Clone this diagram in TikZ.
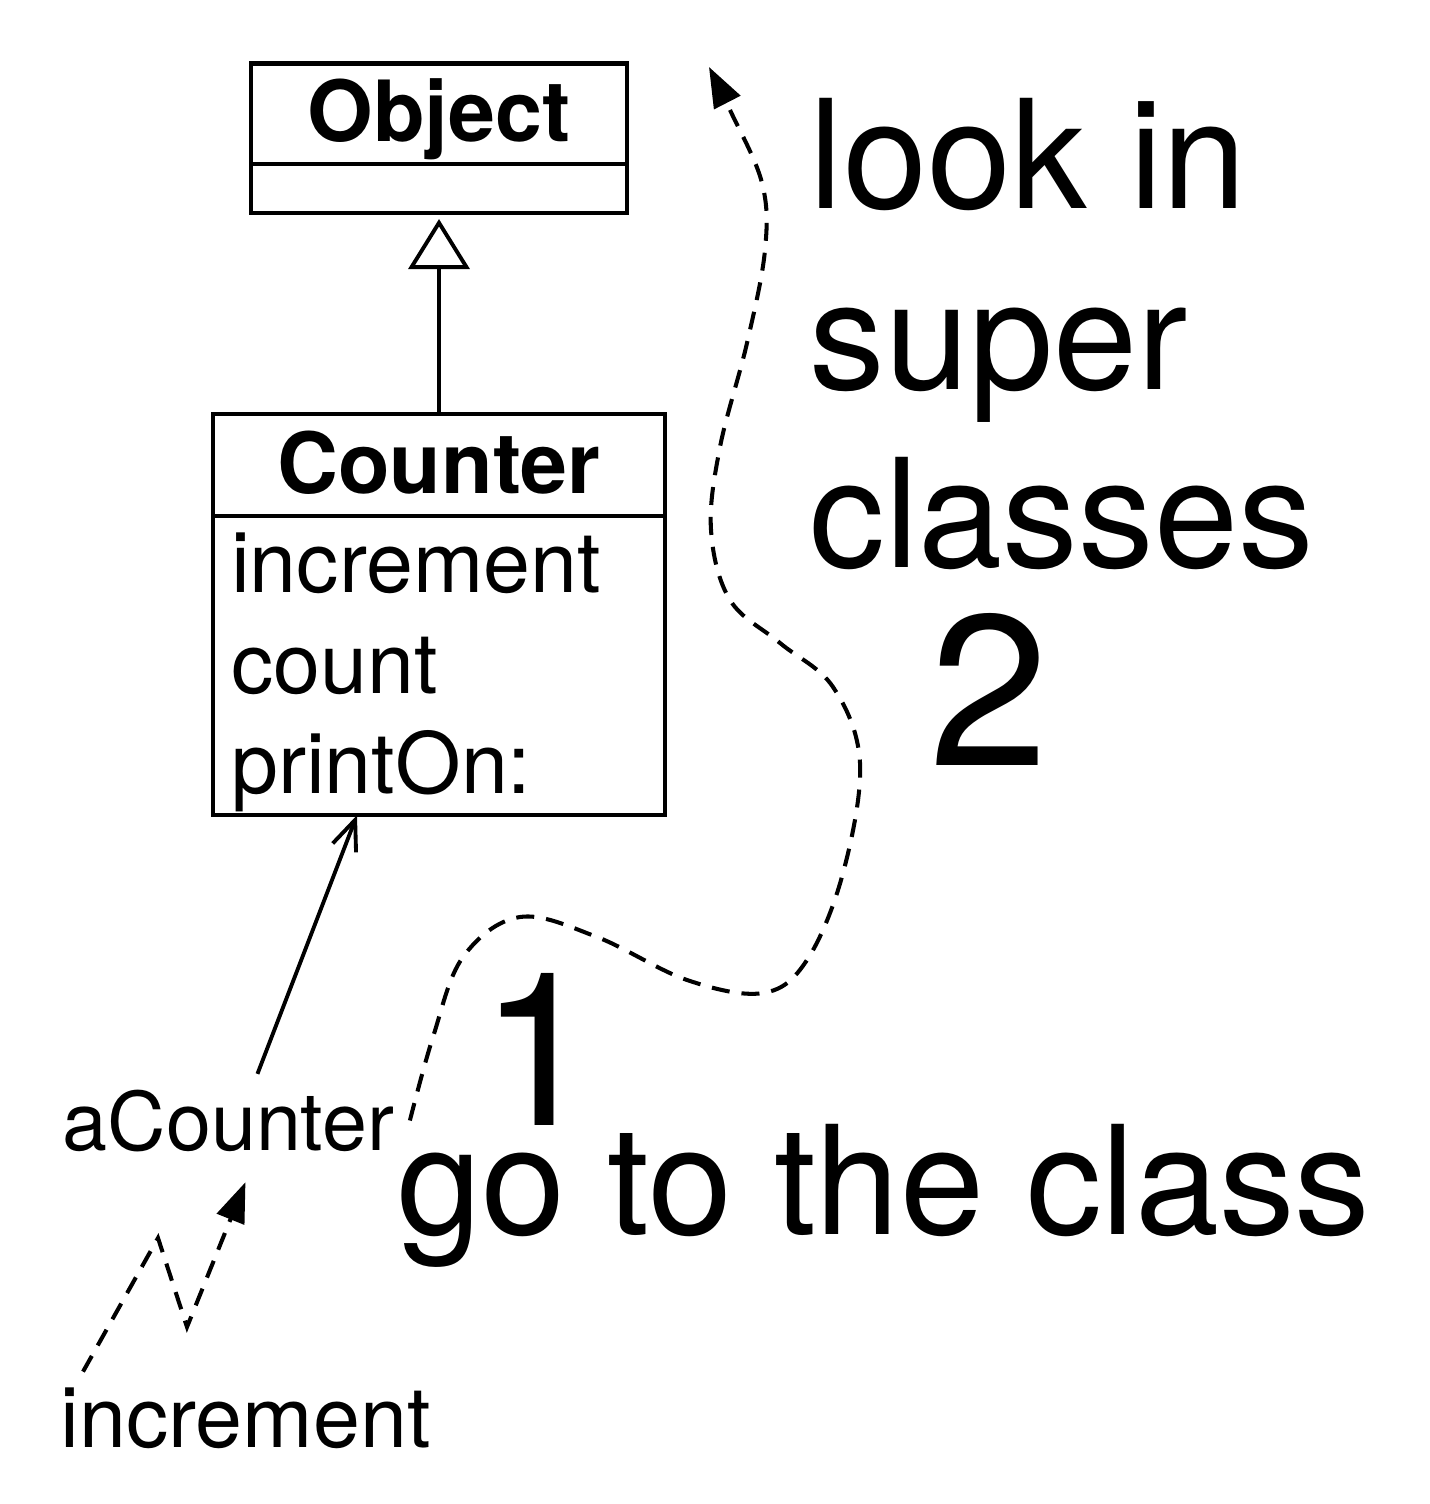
\documentclass[tikz,border=0pt]{standalone}
\usepackage{fontspec}
\setmainfont{TeX Gyre Heros}
\usepackage{tikz}
\usetikzlibrary{shapes, calc, arrows.meta, positioning}

\begin{document}
\begin{tikzpicture}[x=0.01cm, y=-0.01cm, >={Triangle[length=0.4cm, width=0.29cm]},
    classbox/.style={draw, line width=1.2pt, inner sep=0pt, outer sep=0pt},
    classhead/.style={classbox, font=\bfseries\fontsize{24}{28}\selectfont,
      text height=0.61cm, text depth=0.05cm},
    method/.style={inner sep=0pt, anchor=base west, font=\fontsize{24}{28}\selectfont},
    smalltext/.style={inner sep=0.15cm, anchor=base west, font=\fontsize{24}{28}\selectfont},
    bigtext/.style={inner sep=0pt, anchor=base west, font=\fontsize{43}{50}\selectfont},
    bignum/.style={inner sep=0pt, anchor=base west, font=\fontsize{61}{70}\selectfont},
    msg/.style={dash pattern=on 0.18cm off 0.12cm, line width=1.15pt},
    inherit/.style={-{Triangle[open, length=0.5cm, width=0.61cm]}, line width=1.1pt, shorten >=0.06cm},
    assoc/.style={-{Straight Barb[length=0.3cm, width=0.25cm]}, line width=1.1pt}]
  \useasboundingbox (0,0) rectangle (1429,1504);

  % classes
  \node[classhead, minimum width=3.76cm, minimum height=1.005cm] (objhead) at (439,113.75) {Object};
  \node[classbox, minimum width=3.76cm, minimum height=0.49cm, below=0pt of objhead] (objbody) {};
  \node[classhead, minimum width=4.51cm, minimum height=1.02cm] (counterhead) at (439,465) {Counter};
  \node[classbox, minimum width=4.51cm, minimum height=2.99cm, below=0pt of counterhead] (counterbody) {};
  \foreach \m [count=\i] in {increment, count, printOn:} {
      \node[method] (meth\i) at (230.5, 493+100*\i) {\m};
  };
  \draw[inherit] (counterhead.north) -- (objbody.south);

  % instance and message
  \node[smalltext, font=\fontsize{23}{28}\selectfont] (aCounter) at (47,1150) {aCounter};
  \node[smalltext] (send) at (45,1447) {increment};
  \draw[assoc] ([xshift=0.29cm]aCounter.north) -- ([xshift=-0.82cm]counterbody.south);
  \draw[msg, ->] ([xshift=0.38cm]send.north west) -- (158,1238) -- (187,1327)
    -- ([xshift=0.17cm, yshift=-0.15cm]aCounter.south);

  % lookup
  \coordinate (lookup) at (709,67);
  \draw[msg, ->] plot[smooth, tension=0.6] coordinates {(aCounter.east) (433,1037) (463,957)
    (520,917) (597,937) (687,980) (763,993) (807,960) (843,873) (860,763) (833,687)
    (780,643) (730,600) (711,530) (720,447) (747,343) (765,250) (762,183) (730,110) (lookup)};

  \node[bigtext] (look) at (809,209) {look in};
  \node[bigtext] (super) at (809,390) {super};
  \node[bigtext] (classes) at (809,568) {classes};
  \node[bignum] (two) at (929,765) {2};
  \node[bignum] (one) at (479,1125) {1};
  \node[bigtext] (goto) at (397,1234) {go to the class};
\end{tikzpicture}
\end{document}
